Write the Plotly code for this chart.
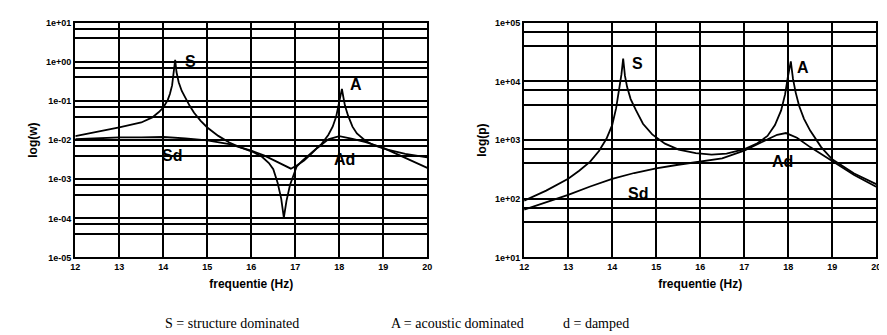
import math
import plotly.graph_objects as go

# ---------------- data ----------------
freq_w_undamped = [12.0, 12.5, 13.0, 13.5, 13.75, 13.9, 14.0, 14.1, 14.15, 14.2, 14.24, 14.27,
                   14.3, 14.35, 14.42, 14.5, 14.6, 14.7, 14.85, 15.0, 15.25, 15.5, 15.75, 16.05,
                   16.25, 16.4, 16.5, 16.6, 16.68, 16.74, 16.8, 16.88, 16.95, 17.03, 17.15, 17.3,
                   17.45, 17.6, 17.75, 17.85, 17.93, 17.98, 18.03, 18.06, 18.09, 18.13, 18.2,
                   18.3, 18.4, 18.6, 18.8, 19.05, 19.5, 20.0]
w_undamped = [0.0126, 0.0160, 0.0210, 0.0282, 0.038, 0.052, 0.068, 0.105, 0.15, 0.25, 0.5, 1.12,
              0.55, 0.30, 0.18, 0.12, 0.075, 0.050, 0.031, 0.021, 0.0128, 0.0087, 0.0065, 0.0049,
              0.0037, 0.0026, 0.0018, 0.0008, 0.00032, 0.000105, 0.00028, 0.00071, 0.00126,
              0.0021, 0.0029, 0.0040, 0.0055, 0.0080, 0.0135, 0.022, 0.040, 0.07, 0.14, 0.204,
              0.13, 0.075, 0.042, 0.022, 0.0148, 0.0095, 0.0073, 0.0059, 0.00447, 0.00363]

freq_w_damped = [12.0, 12.5, 13.0, 13.5, 14.0, 14.5, 15.0, 15.5, 16.0, 16.3, 16.6, 16.9, 17.05,
                 17.2, 17.35, 17.5, 17.75, 18.0, 18.3, 18.6, 19.0, 19.5, 20.0]
w_damped = [0.0105, 0.0112, 0.0117, 0.0118, 0.0120, 0.0110, 0.0098, 0.0079, 0.0054, 0.0040,
            0.0027, 0.00186, 0.0023, 0.0030, 0.0043, 0.0063, 0.0105, 0.0126, 0.0107, 0.0089,
            0.0063, 0.0035, 0.00195]

freq_p_undamped = [12.0, 12.5, 13.0, 13.25, 13.5, 13.7, 13.87, 14.0, 14.09, 14.16, 14.21, 14.25,
                   14.29, 14.34, 14.42, 14.54, 14.7, 14.91, 15.2, 15.51, 15.9, 16.26, 16.6,
                   17.01, 17.3, 17.53, 17.7, 17.84, 17.93, 17.99, 18.06, 18.11, 18.17, 18.25,
                   18.36, 18.5, 18.75, 19.0, 19.5, 20.0]
p_undamped = [93, 138, 219, 300, 430, 650, 1050, 1800, 3500, 7000, 13000, 24550,
              12500, 8000, 5000, 3236, 1900, 1250, 870, 690, 600, 565, 590,
              700, 880, 1175, 1800, 3200, 6000, 11500, 21880, 11000, 6500, 3800,
              2300, 1450, 760, 470, 270, 178]

freq_p_damped = [12.0, 12.5, 13.0, 13.5, 14.0, 14.5, 15.0, 15.5, 16.0, 16.5, 17.0, 17.25, 17.5,
                 17.75, 17.95, 18.2, 18.5, 18.75, 19.0, 19.5, 20.0]
p_damped = [65, 87, 117, 162, 219, 275, 331, 380, 427, 490, 661, 820, 1000,
            1230, 1318, 1096, 759, 580, 430, 255, 160]

x_ticks = [12, 13, 14, 15, 16, 17, 18, 19, 20]
w_tick_vals = [1e-5, 1e-4, 1e-3, 1e-2, 1e-1, 1e0, 1e1]
w_tick_text = ["1e-05", "1e-04", "1e-03", "1e-02", "1e-01", "1e+00", "1e+01"]
p_tick_vals = [1e1, 1e2, 1e3, 1e4, 1e5]
p_tick_text = ["1e+01", "1e+02", "1e+03", "1e+04", "1e+05"]
grid_fractions = [0.4, 0.7]

caption = ["S = structure dominated", "A = acoustic dominated", "d = damped"]

# ---------------- figure ----------------
W, H = 887, 335
L_X = [63 / W, 419 / W]
R_X = [517 / W, 873 / W]
Y_DOM = [1 - 252 / H, 1 - 10 / H]

line = dict(color="black", width=1.8)

fig = go.Figure()
fig.add_trace(go.Scatter(x=freq_w_undamped, y=w_undamped, mode="lines", line=line,
                         xaxis="x", yaxis="y", showlegend=False))
fig.add_trace(go.Scatter(x=freq_w_damped, y=w_damped, mode="lines", line=line,
                         xaxis="x", yaxis="y", showlegend=False))
fig.add_trace(go.Scatter(x=freq_p_undamped, y=p_undamped, mode="lines", line=line,
                         xaxis="x2", yaxis="y2", showlegend=False))
fig.add_trace(go.Scatter(x=freq_p_damped, y=p_damped, mode="lines", line=line,
                         xaxis="x2", yaxis="y2", showlegend=False))

tickfont = dict(family="Liberation Sans, Arial", size=9, color="black", weight="bold")
titlefont = dict(family="Liberation Sans, Arial", size=12, color="black", weight="bold")


def xaxis(domain, anchor):
    return dict(domain=domain, anchor=anchor, range=[12, 20], tickvals=x_ticks,
                ticktext=[str(v) for v in x_ticks], tickfont=tickfont,
                showgrid=True, gridcolor="black", gridwidth=1.8,
                showline=True, linecolor="black", linewidth=2.2, mirror=True,
                ticks="", zeroline=False,
                title=dict(text="frequentie (Hz)", font=titlefont, standoff=8))


def yaxis(domain, anchor, vals, text, title):
    minor_vals = [f * v for v in vals[1:] for f in grid_fractions]
    return dict(domain=domain, anchor=anchor, type="log",
                range=[math.log10(vals[0]), math.log10(vals[-1])],
                tickvals=vals, ticktext=text, tickfont=tickfont,
                showgrid=True, gridcolor="black", gridwidth=1.8,
                minor=dict(tickvals=minor_vals, showgrid=True, gridcolor="black", gridwidth=1.5,
                           ticks=""),
                showline=True, linecolor="black", linewidth=2.2, mirror=True,
                ticks="", zeroline=False,
                title=dict(text=title, font=titlefont, standoff=6))


fig.update_layout(
    width=W, height=H,
    margin=dict(l=0, r=0, t=0, b=0),
    paper_bgcolor="white", plot_bgcolor="white",
    xaxis=xaxis(L_X, "y"),
    yaxis=yaxis(Y_DOM, "x", w_tick_vals, w_tick_text, "log(w)"),
    xaxis2=xaxis(R_X, "y2"),
    yaxis2=yaxis(Y_DOM, "x2", p_tick_vals, p_tick_text, "log(p)"),
)

labfont = dict(family="Liberation Sans, Arial", size=16, color="black", weight="bold")
labels = [
    ("S", 180, 50), ("Sd", 161, 147), ("A", 347, 74), ("Ad", 335, 151),
    ("S", 632, 52), ("Sd", 632, 186), ("A", 799, 56), ("Ad", 778, 153),
]
for txt, px, py in labels:
    fig.add_annotation(text=txt, x=px / W, y=1 - py / H, xref="paper", yref="paper",
                       showarrow=False, font=labfont, xanchor="center", yanchor="middle")

capfont = dict(family="Liberation Serif, Times New Roman", size=14, color="black")
for txt, px in zip(caption, [222, 450, 590]):
    fig.add_annotation(text=txt, x=px / W, y=1 - 320 / H, xref="paper", yref="paper",
                       showarrow=False, font=capfont, xanchor="center", yanchor="middle")

fig.write_html("out.html")
